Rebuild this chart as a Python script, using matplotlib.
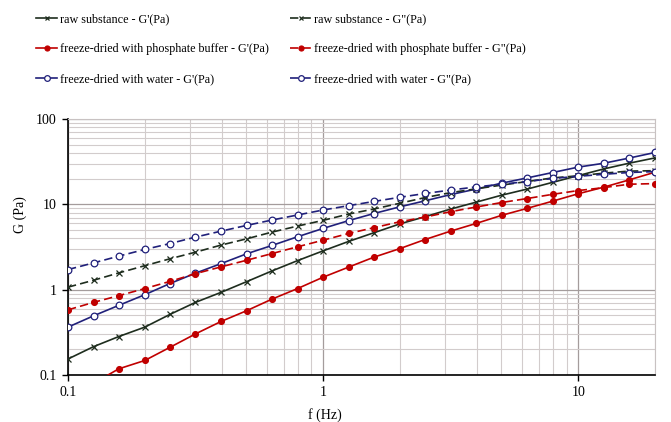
import numpy as np
import matplotlib
matplotlib.use("Agg")
import matplotlib.pyplot as plt
from matplotlib.ticker import LogLocator, NullFormatter, FixedLocator, FixedFormatter

plt.rcParams["font.family"] = ["Liberation Serif", "DejaVu Serif"]

# ====== data ======
freq = [0.1, 0.126, 0.158, 0.2, 0.251, 0.316, 0.398, 0.501, 0.631, 0.794,
        1.0, 1.26, 1.58, 2.0, 2.51, 3.16, 3.98, 5.01, 6.31, 7.94,
        10.0, 12.6, 15.8, 20.0]

raw_g1 = [0.154, 0.215, 0.282, 0.364, 0.513, 0.71, 0.93, 1.24, 1.66, 2.19,
          2.85, 3.68, 4.64, 5.9, 7.16, 8.8, 10.6, 12.8, 15.1, 18.1,
          21.7, 26.0, 30.3, 35.0]
raw_g2 = [1.07, 1.29, 1.57, 1.91, 2.30, 2.75, 3.33, 3.94, 4.73, 5.56,
          6.49, 7.7, 8.8, 10.3, 12.0, 13.7, 15.2, 16.8, 18.5, 20.4,
          21.6, 23.2, 24.5, 24.8]
phos_g1 = [0.06, 0.08, 0.118, 0.148, 0.211, 0.303, 0.424, 0.566, 0.776, 1.03,
           1.40, 1.84, 2.40, 3.03, 3.87, 4.85, 5.97, 7.43, 8.97, 10.9,
           13.3, 15.9, 19.3, 23.8]
phos_g2 = [0.58, 0.71, 0.85, 1.03, 1.25, 1.54, 1.85, 2.21, 2.65, 3.18,
           3.80, 4.56, 5.32, 6.25, 7.09, 8.2, 9.3, 10.5, 11.7, 13.1,
           14.5, 15.7, 17.2, 17.5]
water_g1 = [0.364, 0.494, 0.654, 0.873, 1.18, 1.56, 2.02, 2.63, 3.30, 4.17,
            5.22, 6.45, 7.8, 9.35, 11.0, 13.0, 15.1, 17.7, 20.4, 23.6,
            27.3, 30.3, 34.8, 40.5]
water_g2 = [1.72, 2.06, 2.47, 2.96, 3.47, 4.13, 4.85, 5.66, 6.55, 7.5,
            8.58, 9.65, 10.8, 12.1, 13.4, 14.7, 16.0, 17.2, 18.5, 20.1,
            21.3, 22.5, 23.6, 24.2]

labels = ["raw substance - G'(Pa)",
          "freeze-dried with phosphate buffer - G'(Pa)",
          "freeze-dried with water - G'(Pa)",
          "raw substance - G\"(Pa)",
          "freeze-dried with phosphate buffer - G\"(Pa)",
          "freeze-dried with water - G\"(Pa)"]

C_RAW = "#1e2d1e"
C_PHOS = "#c00000"
C_WATER = "#20207a"
DASH = (0, (5, 2.5))

fig = plt.figure(figsize=(6.71, 4.22), dpi=100)
ax = fig.add_axes([68/671, 1-375/422, (655-68)/671, (375-119)/422])

# (values, colour, linestyle, marker, marker size, face colour)
series = [
    (raw_g1, C_RAW, "-", "x", 3.8, C_RAW),
    (phos_g1, C_PHOS, "-", "o", 4.2, C_PHOS),
    (water_g1, C_WATER, "-", "o", 4.8, "white"),
    (raw_g2, C_RAW, DASH, "x", 3.8, C_RAW),
    (phos_g2, C_PHOS, DASH, "o", 4.2, C_PHOS),
    (water_g2, C_WATER, DASH, "o", 4.8, "white"),
]
handles = []
for (y, c, ls, m, ms, fc), lab in zip(series, labels):
    h, = ax.plot(freq, y, color=c, linestyle=ls, linewidth=1.2, marker=m,
                 markersize=ms, markerfacecolor=fc, markeredgecolor=c,
                 markeredgewidth=0.9, label=lab, zorder=3)
    handles.append(h)

ax.set_xscale("log")
ax.set_yscale("log")
ax.set_xlim(0.1, 20)
ax.set_ylim(0.1, 100)

ax.xaxis.set_major_locator(FixedLocator([0.1, 1, 10]))
ax.xaxis.set_major_formatter(FixedFormatter(["0.1", "1", "10"]))
ax.xaxis.set_minor_locator(LogLocator(base=10, subs=np.arange(2, 10)))
ax.xaxis.set_minor_formatter(NullFormatter())
ax.yaxis.set_major_locator(FixedLocator([0.1, 1, 10, 100]))
ax.yaxis.set_major_formatter(FixedFormatter(["0.1", "1", "10", "100"]))
ax.yaxis.set_minor_locator(LogLocator(base=10, subs=np.arange(2, 10)))
ax.yaxis.set_minor_formatter(NullFormatter())

ax.grid(True, which="major", color="#a49c9c", linewidth=0.9)
ax.grid(True, which="minor", color="#d2cccc", linewidth=0.8)
ax.set_axisbelow(True)

ax.tick_params(which="major", direction="out", length=4, width=1, labelsize=10, pad=4)
ax.tick_params(which="minor", length=0)
for s in ["top", "right"]:
    ax.spines[s].set_color("#c8c2c2")
    ax.spines[s].set_linewidth(0.8)
for s in ["left", "bottom"]:
    ax.spines[s].set_color("black")
    ax.spines[s].set_linewidth(1.2)

ax.set_xlabel("f (Hz)", fontsize=10)
ax.xaxis.set_label_coords((325-68)/587, -0.13)
ax.set_ylabel("G (Pa)", fontsize=10)
ax.yaxis.set_label_coords(-0.07, (375-215)/256)

fig.legend(handles=handles, ncol=2, loc="upper left",
           bbox_to_anchor=(36/671, 1-13/422), frameon=False, fontsize=8.7,
           handlelength=1.75, handletextpad=0.2, columnspacing=1.8,
           labelspacing=1.5, borderpad=0, borderaxespad=0, markerscale=0.85)

fig.savefig("out.png", dpi=100)
